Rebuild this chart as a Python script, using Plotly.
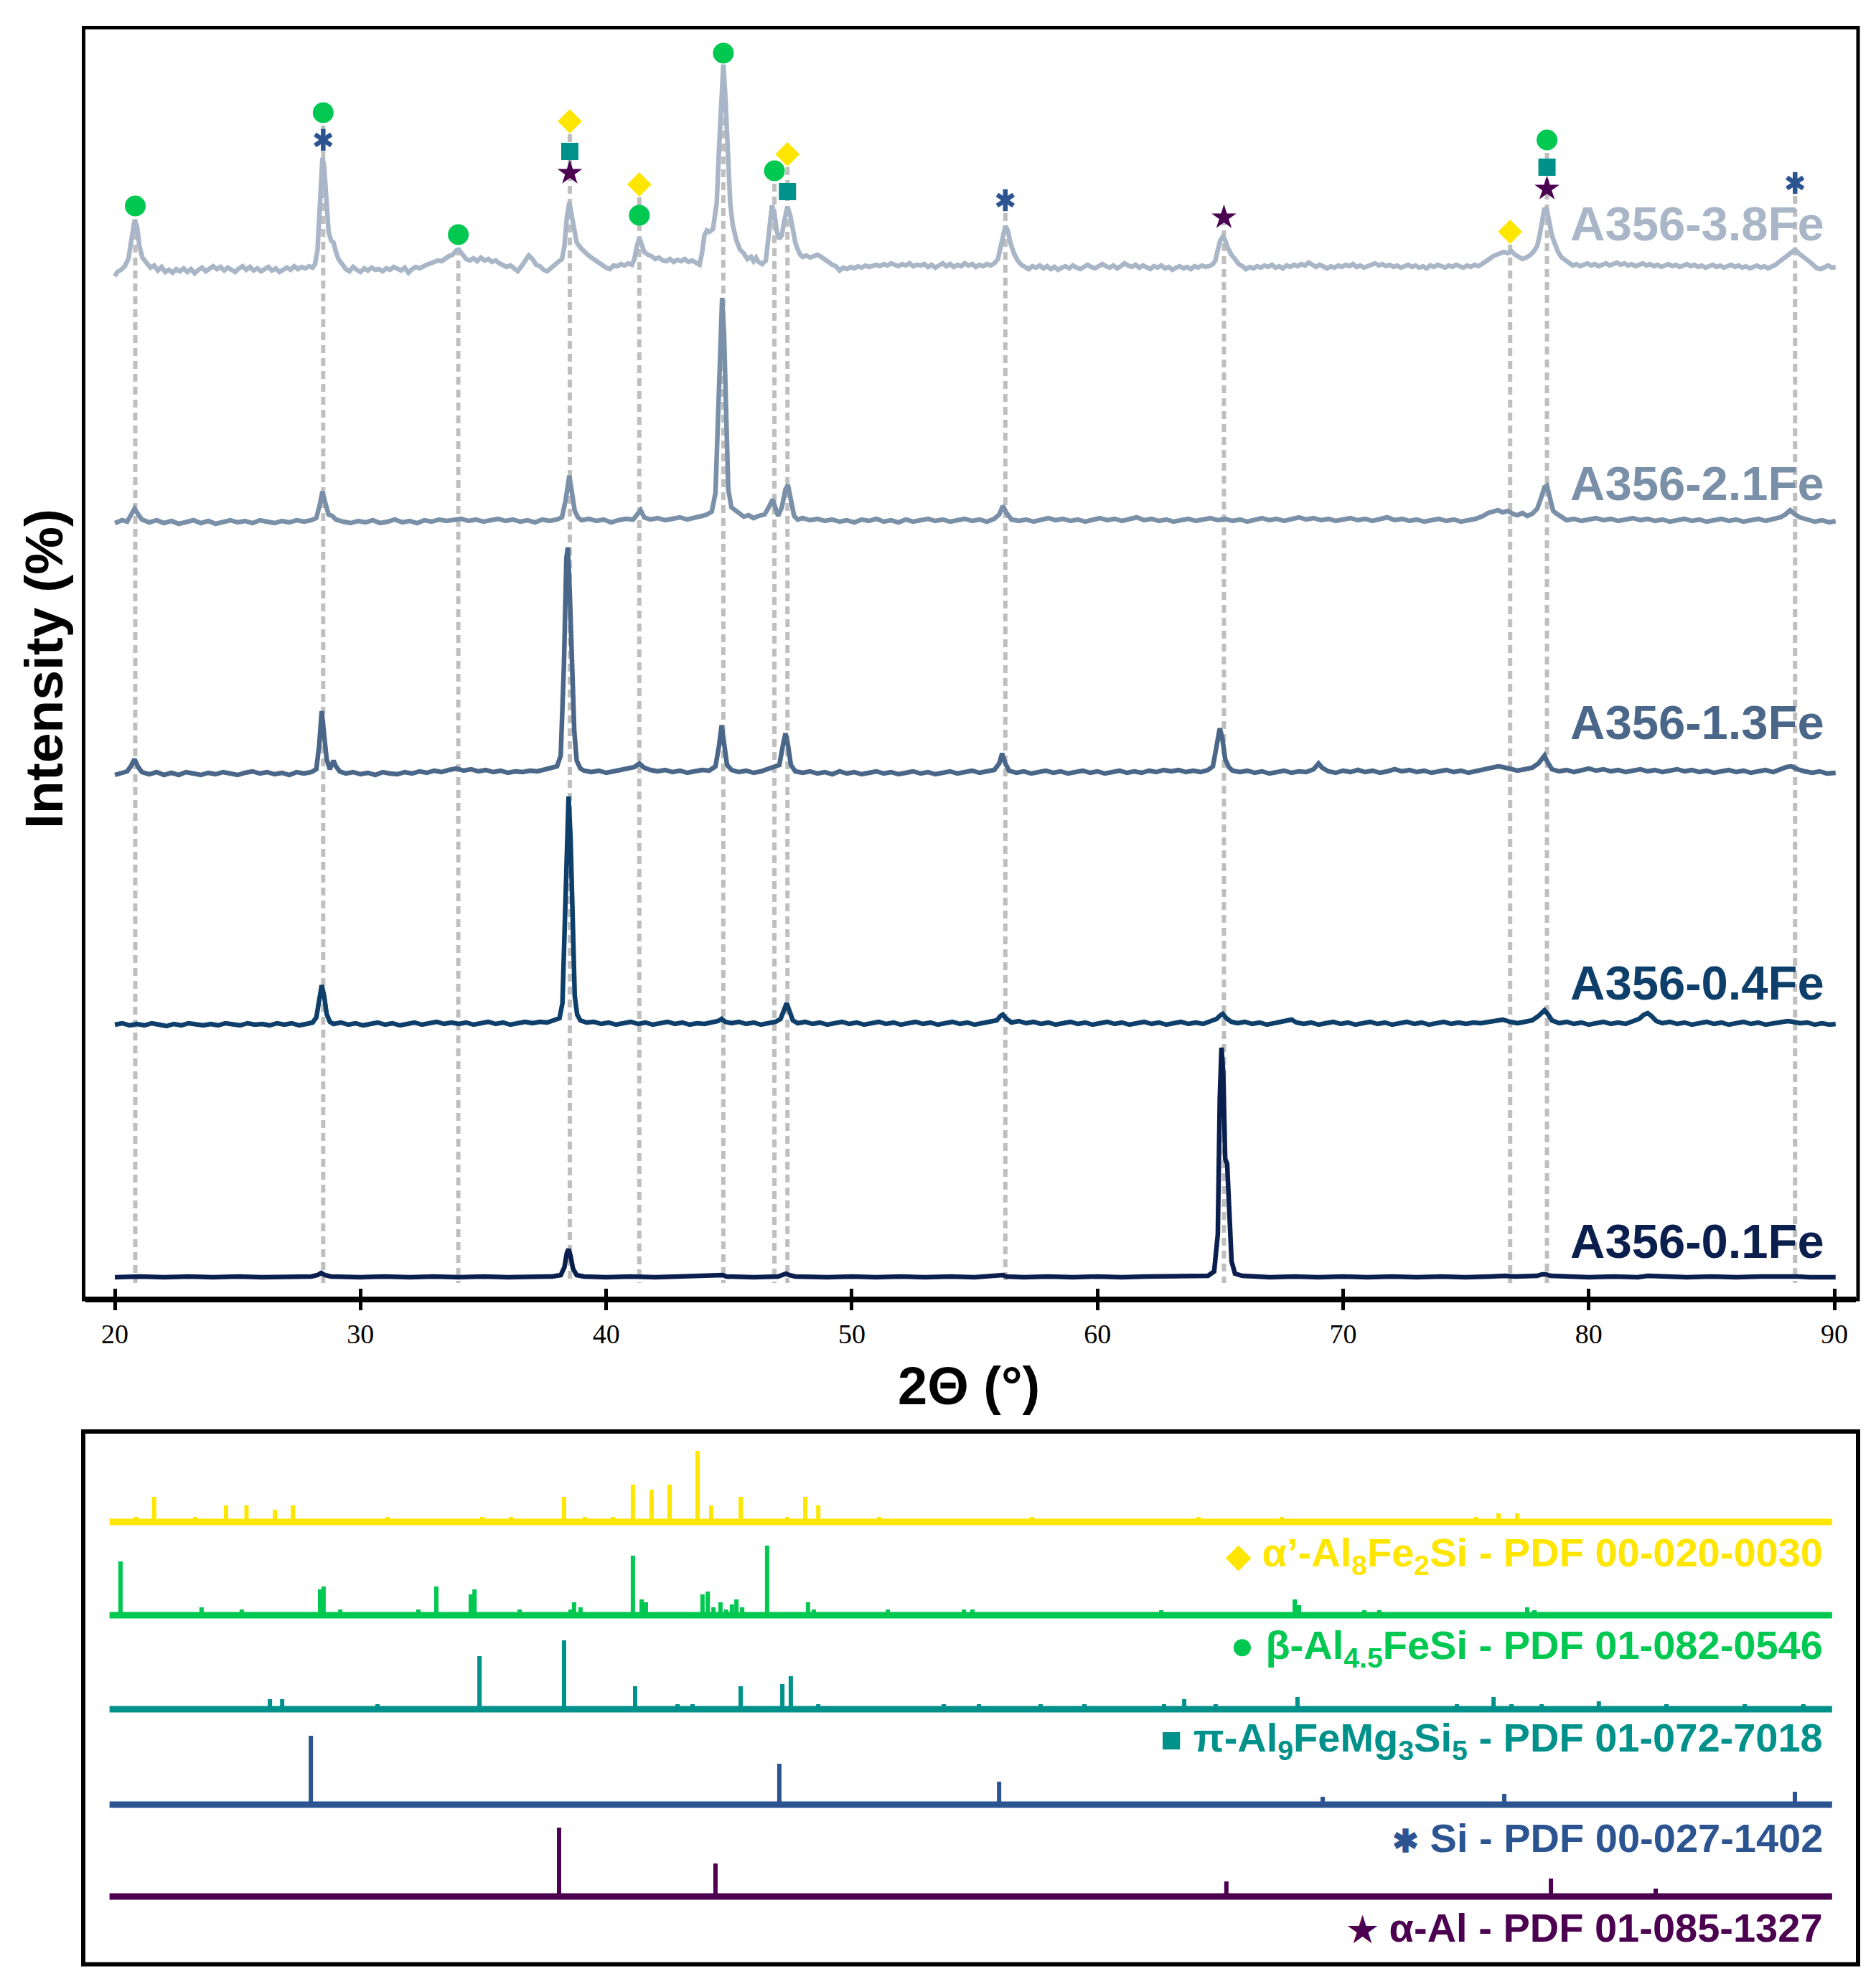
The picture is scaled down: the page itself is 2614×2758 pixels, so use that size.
import plotly.graph_objects as go

W, H = 2614, 2758

# ======================= DATA =======================
TICKS_2THETA = [20, 30, 40, 50, 60, 70, 80, 90]

SAMPLE_NAMES = ["A356-3.8Fe", "A356-2.1Fe", "A356-1.3Fe", "A356-0.4Fe", "A356-0.1Fe"]
SAMPLE_OFFSETS = [1438, 1084, 733, 383, 31]  # stacking offsets (a.u.)

# (2theta, intensity a.u.)
XRD_38FE = [(20.0,-12),(20.1,-6),(20.25,-3),(20.4,2),(20.55,12),(20.68,40),(20.8,66),(20.9,58),(21.0,30),(21.12,14),(21.3,6),(21.45,0),(21.6,3),(21.75,-4),(21.9,1),(22.05,-6),(22.2,-3),(22.35,-7),(22.5,-2),(22.65,-5),(22.8,-1),(22.95,-6),(23.1,-2),(23.25,-8),(23.4,-3),(23.55,0),(23.7,-5),(23.85,-1),(24.0,2),(24.15,-2),(24.3,1),(24.45,-4),(24.6,0),(24.75,-3),(24.9,-6),(25.05,-1),(25.2,2),(25.35,-3),(25.5,1),(25.65,-4),(25.8,-1),(25.95,-5),(26.1,-2),(26.25,1),(26.4,-4),(26.55,-1),(26.7,-6),(26.85,-2),(27.0,0),(27.15,-3),(27.3,2),(27.45,-2),(27.6,1),(27.75,-1),(27.9,2),(28.05,0),(28.15,5),(28.25,25),(28.35,95),(28.45,153),(28.52,140),(28.6,90),(28.7,50),(28.8,38),(28.9,35),(29.0,22),(29.1,12),(29.25,5),(29.4,-2),(29.55,-5),(29.7,1),(29.85,-3),(30.0,-6),(30.15,-1),(30.3,-4),(30.45,0),(30.6,-3),(30.75,-2),(30.9,-5),(31.05,-1),(31.2,-3),(31.35,1),(31.5,-2),(31.65,-4),(31.8,0),(31.95,-7),(32.1,-2),(32.25,1),(32.4,-1),(32.55,2),(32.7,4),(32.85,6),(33.0,8),(33.15,10),(33.3,9),(33.45,13),(33.6,16),(33.75,18),(33.9,24),(34.0,25),(34.15,17),(34.3,12),(34.45,10),(34.6,13),(34.75,9),(34.9,14),(35.05,10),(35.2,12),(35.35,8),(35.5,10),(35.65,6),(35.8,4),(35.95,1),(36.1,3),(36.25,-2),(36.4,-5),(36.55,2),(36.7,10),(36.85,17),(37.0,12),(37.15,4),(37.3,2),(37.45,-3),(37.6,-5),(37.75,0),(37.9,3),(38.05,8),(38.2,12),(38.3,30),(38.4,70),(38.5,91),(38.6,72),(38.7,48),(38.8,35),(38.95,28),(39.1,22),(39.25,18),(39.4,14),(39.55,10),(39.7,6),(39.85,2),(40.0,0),(40.15,-2),(40.3,3),(40.45,2),(40.6,5),(40.75,3),(40.9,6),(41.05,4),(41.15,12),(41.25,30),(41.35,41),(41.45,32),(41.55,22),(41.7,18),(41.85,16),(42.0,12),(42.15,14),(42.3,10),(42.45,9),(42.6,12),(42.75,8),(42.9,11),(43.05,9),(43.2,12),(43.35,8),(43.5,10),(43.65,6),(43.8,4),(43.9,20),(44.0,45),(44.1,52),(44.2,50),(44.35,54),(44.5,90),(44.6,170),(44.7,260),(44.77,283),(44.85,240),(44.95,150),(45.05,90),(45.15,60),(45.3,38),(45.45,25),(45.6,20),(45.75,12),(45.9,15),(46.0,9),(46.1,14),(46.2,8),(46.35,5),(46.5,10),(46.6,40),(46.75,87),(46.85,75),(46.95,50),(47.05,40),(47.15,45),(47.25,65),(47.38,85),(47.5,72),(47.6,50),(47.7,35),(47.8,25),(47.9,18),(48.0,15),(48.15,17),(48.3,14),(48.45,16),(48.6,18),(48.75,15),(48.9,12),(49.05,8),(49.2,4),(49.35,2),(49.5,-4),(49.65,0),(49.8,-2),(49.95,1),(50.1,-1),(50.25,2),(50.4,0),(50.55,3),(50.7,1),(50.85,2),(51.0,4),(51.15,2),(51.3,5),(51.45,3),(51.6,6),(51.75,4),(51.9,2),(52.05,5),(52.2,3),(52.35,6),(52.5,2),(52.65,4),(52.8,3),(52.95,5),(53.1,1),(53.25,4),(53.4,0),(53.55,3),(53.7,6),(53.85,2),(54.0,5),(54.15,1),(54.3,4),(54.45,2),(54.6,6),(54.75,3),(54.9,5),(55.05,1),(55.2,4),(55.35,2),(55.5,5),(55.65,3),(55.8,6),(55.95,12),(56.1,35),(56.25,58),(56.35,52),(56.45,35),(56.6,20),(56.75,10),(56.9,4),(57.05,1),(57.2,-2),(57.35,2),(57.5,0),(57.65,3),(57.8,-1),(57.95,2),(58.1,-2),(58.25,1),(58.4,-3),(58.55,0),(58.7,2),(58.85,-1),(59.0,3),(59.15,0),(59.3,-2),(59.45,1),(59.6,4),(59.75,1),(59.9,-1),(60.05,2),(60.2,5),(60.35,2),(60.5,0),(60.65,3),(60.8,-1),(60.95,2),(61.1,6),(61.25,3),(61.4,1),(61.55,4),(61.7,0),(61.85,3),(62.0,1),(62.15,-2),(62.3,2),(62.45,0),(62.6,3),(62.75,-1),(62.9,1),(63.05,-3),(63.2,0),(63.35,2),(63.5,-1),(63.65,1),(63.8,-2),(63.95,2),(64.1,0),(64.25,3),(64.4,1),(64.55,2),(64.7,5),(64.8,10),(64.9,25),(65.0,38),(65.1,43),(65.2,38),(65.3,28),(65.45,18),(65.6,12),(65.75,5),(65.9,2),(66.05,-2),(66.2,1),(66.35,-1),(66.5,2),(66.65,0),(66.8,3),(66.95,1),(67.1,4),(67.25,0),(67.4,2),(67.55,-1),(67.7,3),(67.85,1),(68.0,4),(68.15,2),(68.3,5),(68.45,3),(68.6,7),(68.75,3),(68.9,1),(69.05,4),(69.2,1),(69.35,-1),(69.5,2),(69.65,0),(69.8,3),(69.95,1),(70.1,4),(70.25,2),(70.4,5),(70.55,1),(70.7,3),(70.85,0),(71.0,2),(71.15,4),(71.3,6),(71.45,3),(71.6,5),(71.75,2),(71.9,4),(72.05,1),(72.2,3),(72.35,0),(72.5,2),(72.65,4),(72.8,1),(72.95,3),(73.1,0),(73.25,2),(73.4,-1),(73.55,3),(73.7,1),(73.85,4),(74.0,2),(74.15,0),(74.3,3),(74.45,1),(74.6,4),(74.75,2),(74.9,0),(75.05,3),(75.2,1),(75.35,4),(75.5,2),(75.65,5),(75.8,8),(75.95,12),(76.1,16),(76.25,18),(76.4,20),(76.55,22),(76.7,20),(76.85,23),(77.0,18),(77.15,14),(77.3,12),(77.45,14),(77.6,17),(77.75,22),(77.9,30),(78.0,45),(78.1,70),(78.2,83),(78.3,80),(78.4,62),(78.5,45),(78.6,35),(78.75,22),(78.9,14),(79.05,10),(79.2,6),(79.35,3),(79.5,5),(79.65,2),(79.8,4),(79.95,6),(80.1,3),(80.25,5),(80.4,2),(80.55,4),(80.7,6),(80.85,3),(81.0,5),(81.15,7),(81.3,4),(81.45,6),(81.6,3),(81.75,5),(81.9,2),(82.05,4),(82.2,6),(82.35,3),(82.5,5),(82.65,2),(82.8,4),(82.95,1),(83.1,3),(83.25,5),(83.4,2),(83.55,4),(83.7,1),(83.85,3),(84.0,5),(84.15,2),(84.3,4),(84.45,1),(84.6,3),(84.75,0),(84.9,2),(85.05,4),(85.2,1),(85.35,3),(85.5,0),(85.65,2),(85.8,4),(85.95,1),(86.1,3),(86.25,0),(86.4,2),(86.55,-1),(86.7,1),(86.85,3),(87.0,0),(87.15,2),(87.3,-1),(87.45,1),(87.6,4),(87.75,8),(87.9,12),(88.05,16),(88.2,20),(88.4,25),(88.55,20),(88.7,15),(88.85,12),(89.0,8),(89.15,3),(89.3,-1),(89.45,-2),(89.6,1),(89.75,3),(89.9,0),(90.05,1)]

XRD_21FE = [(20.0,-2),(20.3,2),(20.5,0),(20.65,8),(20.8,18),(20.95,10),(21.1,3),(21.4,-1),(21.7,2),(22.0,-2),(22.3,1),(22.6,-3),(22.9,0),(23.2,2),(23.5,-2),(23.8,1),(24.1,-3),(24.4,0),(24.7,2),(25.0,-1),(25.3,1),(25.6,-2),(25.9,2),(26.2,0),(26.5,-2),(26.8,1),(27.1,-1),(27.4,2),(27.7,0),(28.0,2),(28.2,5),(28.35,25),(28.45,42),(28.55,28),(28.7,10),(28.85,8),(29.0,3),(29.3,0),(29.6,-2),(29.9,1),(30.2,-1),(30.5,2),(30.8,-2),(31.1,0),(31.4,3),(31.7,-1),(32.0,1),(32.3,-2),(32.6,2),(32.9,0),(33.2,3),(33.5,1),(33.8,2),(34.1,4),(34.4,1),(34.7,3),(35.0,0),(35.3,2),(35.6,4),(35.9,1),(36.2,3),(36.5,0),(36.8,2),(37.1,-1),(37.4,3),(37.7,1),(38.0,3),(38.2,6),(38.35,30),(38.5,64),(38.6,45),(38.72,15),(38.85,6),(39.0,2),(39.3,4),(39.6,1),(39.9,3),(40.2,-1),(40.5,2),(40.8,4),(41.1,3),(41.25,10),(41.4,16),(41.55,6),(41.8,3),(42.1,5),(42.4,2),(42.7,4),(43.0,6),(43.3,3),(43.6,5),(43.9,8),(44.1,10),(44.3,14),(44.45,40),(44.55,150),(44.65,280),(44.72,312),(44.8,260),(44.88,140),(44.97,45),(45.1,20),(45.25,16),(45.4,12),(45.6,7),(45.8,9),(46.0,5),(46.2,8),(46.45,10),(46.65,22),(46.78,31),(46.9,18),(47.0,8),(47.15,20),(47.3,45),(47.4,51),(47.5,30),(47.65,8),(47.8,3),(48.0,5),(48.3,2),(48.6,4),(48.9,1),(49.2,3),(49.5,0),(49.8,2),(50.1,-1),(50.4,3),(50.7,1),(51.0,4),(51.3,0),(51.6,2),(51.9,-1),(52.2,3),(52.5,0),(52.8,2),(53.1,4),(53.4,1),(53.7,3),(54.0,0),(54.3,2),(54.6,4),(54.9,1),(55.2,3),(55.5,0),(55.8,4),(56.0,10),(56.15,22),(56.3,12),(56.5,3),(56.8,1),(57.1,3),(57.4,0),(57.7,2),(58.0,5),(58.3,2),(58.6,4),(58.9,1),(59.2,3),(59.5,0),(59.8,2),(60.1,5),(60.4,2),(60.7,4),(61.0,1),(61.3,3),(61.6,6),(61.9,2),(62.2,4),(62.5,1),(62.8,3),(63.1,0),(63.4,2),(63.7,4),(64.0,1),(64.3,3),(64.6,5),(64.9,2),(65.2,4),(65.5,1),(65.8,3),(66.1,0),(66.4,2),(66.7,5),(67.0,2),(67.3,4),(67.6,1),(67.9,3),(68.2,6),(68.5,3),(68.8,5),(69.1,2),(69.4,4),(69.7,1),(70.0,3),(70.3,5),(70.6,2),(70.9,4),(71.2,1),(71.5,3),(71.8,6),(72.1,2),(72.4,4),(72.7,1),(73.0,3),(73.3,0),(73.6,2),(73.9,4),(74.2,1),(74.5,3),(74.8,0),(75.1,2),(75.4,4),(75.7,8),(75.9,12),(76.1,14),(76.3,16),(76.5,13),(76.7,15),(76.9,11),(77.1,9),(77.3,12),(77.5,8),(77.7,11),(77.9,18),(78.05,32),(78.2,48),(78.3,50),(78.42,35),(78.55,15),(78.7,11),(78.9,6),(79.1,2),(79.4,4),(79.7,1),(80.0,3),(80.3,5),(80.6,2),(80.9,4),(81.2,1),(81.5,3),(81.8,5),(82.1,2),(82.4,4),(82.7,1),(83.0,3),(83.3,0),(83.6,2),(83.9,4),(84.2,1),(84.5,3),(84.8,0),(85.1,2),(85.4,4),(85.7,1),(86.0,3),(86.3,0),(86.6,2),(86.9,4),(87.2,1),(87.5,3),(87.8,6),(88.0,10),(88.2,16),(88.4,10),(88.6,6),(88.9,3),(89.2,0),(89.5,2),(89.8,-1),(90.05,1)]

XRD_13FE = [(20.0,-2),(20.3,1),(20.5,3),(20.65,10),(20.8,20),(20.95,9),(21.1,2),(21.4,-1),(21.7,2),(22.0,-2),(22.3,1),(22.6,-2),(22.9,2),(23.2,0),(23.5,-2),(23.8,1),(24.1,-1),(24.4,2),(24.7,0),(25.0,-2),(25.3,1),(25.6,3),(25.9,0),(26.2,2),(26.5,-1),(26.8,1),(27.1,-2),(27.4,2),(27.7,0),(28.0,2),(28.2,6),(28.32,40),(28.42,87),(28.52,60),(28.62,20),(28.75,6),(28.9,18),(29.0,10),(29.15,3),(29.4,0),(29.7,2),(30.0,-1),(30.3,1),(30.6,-2),(30.9,2),(31.2,0),(31.5,-1),(31.8,2),(32.1,0),(32.4,3),(32.7,1),(33.0,4),(33.3,2),(33.6,5),(33.9,7),(34.2,4),(34.5,6),(34.8,3),(35.1,5),(35.4,2),(35.7,4),(36.0,1),(36.3,3),(36.6,2),(36.9,4),(37.2,3),(37.5,6),(37.8,8),(38.0,10),(38.15,25),(38.28,150),(38.38,300),(38.44,315),(38.52,250),(38.6,150),(38.7,60),(38.8,18),(38.95,7),(39.1,4),(39.4,2),(39.7,4),(40.0,1),(40.3,3),(40.6,5),(40.9,6),(41.15,9),(41.35,14),(41.55,8),(41.8,5),(42.1,3),(42.4,5),(42.7,2),(43.0,4),(43.3,1),(43.6,3),(43.9,5),(44.2,4),(44.45,10),(44.6,40),(44.7,67),(44.8,42),(44.92,12),(45.1,5),(45.4,2),(45.7,4),(46.0,1),(46.3,3),(46.6,6),(46.85,9),(47.05,12),(47.2,40),(47.3,56),(47.4,40),(47.52,12),(47.7,3),(48.0,1),(48.3,3),(48.6,0),(48.9,2),(49.2,-1),(49.5,3),(49.8,0),(50.1,2),(50.4,-1),(50.7,1),(51.0,3),(51.3,0),(51.6,2),(51.9,-1),(52.2,1),(52.5,3),(52.8,0),(53.1,2),(53.4,-1),(53.7,1),(54.0,3),(54.3,0),(54.6,2),(54.9,4),(55.2,1),(55.5,3),(55.8,5),(56.0,14),(56.12,28),(56.25,14),(56.4,4),(56.7,1),(57.0,3),(57.3,0),(57.6,2),(57.9,4),(58.2,1),(58.5,3),(58.8,0),(59.1,2),(59.4,4),(59.7,1),(60.0,3),(60.3,0),(60.6,2),(60.9,4),(61.2,1),(61.5,3),(61.8,1),(62.1,4),(62.4,2),(62.7,5),(63.0,3),(63.3,5),(63.6,2),(63.9,4),(64.2,2),(64.5,5),(64.7,10),(64.85,35),(64.98,63),(65.08,50),(65.2,20),(65.35,9),(65.5,4),(65.8,2),(66.1,4),(66.4,1),(66.7,3),(67.0,0),(67.3,2),(67.6,4),(67.9,1),(68.2,3),(68.5,2),(68.8,6),(69.0,14),(69.15,8),(69.4,3),(69.7,1),(70.0,4),(70.3,2),(70.6,5),(70.9,2),(71.2,4),(71.5,1),(71.8,3),(72.1,6),(72.4,3),(72.7,5),(73.0,2),(73.3,4),(73.6,1),(73.9,3),(74.2,5),(74.5,2),(74.8,4),(75.1,1),(75.4,3),(75.7,5),(76.0,7),(76.3,10),(76.5,9),(76.8,6),(77.1,4),(77.4,6),(77.7,8),(77.95,14),(78.1,22),(78.2,25),(78.32,16),(78.5,6),(78.8,3),(79.1,5),(79.4,2),(79.7,4),(80.0,7),(80.3,4),(80.6,6),(80.9,3),(81.2,5),(81.5,2),(81.8,4),(82.1,6),(82.4,3),(82.7,5),(83.0,2),(83.3,4),(83.6,6),(83.9,3),(84.2,5),(84.5,2),(84.8,4),(85.1,1),(85.4,3),(85.7,5),(86.0,2),(86.3,4),(86.6,1),(86.9,3),(87.2,5),(87.5,2),(87.8,6),(88.05,9),(88.25,10),(88.5,6),(88.8,3),(89.1,1),(89.4,3),(89.7,0),(90.05,1)]

XRD_04FE = [(20.0,0),(20.3,2),(20.6,-1),(20.9,1),(21.2,-1),(21.5,2),(21.8,0),(22.1,-2),(22.4,1),(22.7,-1),(23.0,2),(23.3,0),(23.6,-1),(23.9,1),(24.2,-1),(24.5,2),(24.8,0),(25.1,-1),(25.4,2),(25.7,0),(26.0,1),(26.3,-1),(26.6,2),(26.9,0),(27.2,2),(27.5,-1),(27.8,1),(28.05,3),(28.2,10),(28.32,35),(28.42,55),(28.52,40),(28.62,15),(28.75,4),(28.9,1),(29.2,3),(29.5,0),(29.8,2),(30.1,-1),(30.4,1),(30.7,3),(31.0,0),(31.3,2),(31.6,-1),(31.9,1),(32.2,3),(32.5,0),(32.8,2),(33.1,4),(33.4,1),(33.7,3),(34.0,1),(34.3,3),(34.6,0),(34.9,2),(35.2,4),(35.5,1),(35.8,3),(36.1,0),(36.4,2),(36.7,4),(37.0,2),(37.3,4),(37.6,3),(37.9,6),(38.1,9),(38.22,30),(38.32,150),(38.4,290),(38.47,318),(38.55,260),(38.63,130),(38.72,40),(38.82,14),(38.95,6),(39.2,3),(39.5,4),(39.8,1),(40.1,3),(40.4,0),(40.7,2),(41.0,4),(41.3,1),(41.6,3),(41.9,0),(42.2,2),(42.5,4),(42.8,1),(43.1,3),(43.4,0),(43.7,2),(44.0,1),(44.3,3),(44.55,5),(44.7,8),(44.85,4),(45.1,2),(45.4,4),(45.7,1),(46.0,3),(46.3,0),(46.6,2),(46.9,4),(47.1,8),(47.25,24),(47.35,30),(47.45,20),(47.6,6),(47.8,2),(48.1,4),(48.4,1),(48.7,3),(49.0,0),(49.3,2),(49.6,4),(49.9,1),(50.2,3),(50.5,0),(50.8,2),(51.1,4),(51.4,1),(51.7,3),(52.0,0),(52.3,2),(52.6,4),(52.9,1),(53.2,3),(53.5,0),(53.8,2),(54.1,4),(54.4,1),(54.7,3),(55.0,0),(55.3,2),(55.6,4),(55.9,6),(56.05,12),(56.15,14),(56.3,8),(56.5,3),(56.8,5),(57.1,2),(57.4,4),(57.7,1),(58.0,3),(58.3,0),(58.6,2),(58.9,4),(59.2,1),(59.5,3),(59.8,0),(60.1,2),(60.4,4),(60.7,1),(61.0,3),(61.3,0),(61.6,2),(61.9,4),(62.2,1),(62.5,3),(62.8,0),(63.1,2),(63.4,4),(63.7,1),(64.0,3),(64.3,1),(64.6,4),(64.85,8),(65.0,13),(65.1,15),(65.25,9),(65.45,4),(65.7,2),(66.0,4),(66.3,1),(66.6,3),(66.9,0),(67.2,2),(67.5,4),(67.75,6),(67.9,7),(68.1,3),(68.4,1),(68.7,3),(69.0,0),(69.3,2),(69.6,4),(69.9,1),(70.2,3),(70.5,0),(70.8,2),(71.1,4),(71.4,1),(71.7,3),(72.0,0),(72.3,2),(72.6,4),(72.9,1),(73.2,3),(73.5,0),(73.8,2),(74.1,4),(74.4,1),(74.7,3),(75.0,1),(75.3,3),(75.6,2),(75.9,4),(76.2,5),(76.5,7),(76.8,4),(77.1,2),(77.4,4),(77.7,6),(77.95,12),(78.1,18),(78.2,20),(78.35,14),(78.5,6),(78.8,2),(79.1,4),(79.4,1),(79.7,3),(80.0,0),(80.3,2),(80.6,4),(80.9,1),(81.2,3),(81.5,1),(81.8,4),(82.05,8),(82.25,14),(82.4,16),(82.55,12),(82.75,5),(83.0,2),(83.3,4),(83.6,1),(83.9,3),(84.2,0),(84.5,2),(84.8,4),(85.1,1),(85.4,3),(85.7,0),(86.0,2),(86.3,4),(86.6,1),(86.9,3),(87.2,0),(87.5,2),(87.8,4),(88.1,5),(88.3,4),(88.6,2),(88.9,3),(89.2,0),(89.5,2),(89.8,0),(90.05,1)]

XRD_01FE = [(20.0,0),(21.0,1),(22.0,0),(23.0,1),(24.0,0),(25.0,1),(26.0,0),(27.0,1),(28.0,1),(28.25,3),(28.4,6),(28.55,3),(28.8,1),(30.0,0),(31.0,1),(32.0,0),(33.0,1),(34.0,0),(35.0,1),(36.0,0),(37.0,1),(37.8,1),(38.15,3),(38.3,14),(38.4,34),(38.47,39),(38.55,30),(38.65,12),(38.8,3),(39.1,1),(40.0,0),(41.0,1),(42.0,0),(43.0,1),(44.0,1),(44.6,2),(44.75,3),(44.9,1),(46.0,0),(47.0,1),(47.2,4),(47.32,5),(47.45,3),(47.7,1),(49.0,0),(50.0,1),(51.0,0),(52.0,1),(53.0,0),(54.0,1),(55.0,0),(56.0,2),(56.15,3),(56.3,1),(57.0,0),(58.0,1),(59.0,0),(60.0,1),(61.0,0),(62.0,1),(63.0,1),(64.0,1),(64.5,2),(64.75,8),(64.9,60),(64.98,250),(65.05,320),(65.12,285),(65.2,165),(65.28,158),(65.36,95),(65.46,22),(65.6,5),(65.9,2),(66.5,1),(67.0,0),(68.0,1),(69.0,0),(70.0,1),(71.0,0),(72.0,1),(73.0,0),(74.0,1),(75.0,0),(76.0,1),(76.6,2),(77.0,1),(77.9,2),(78.1,4),(78.25,4),(78.45,2),(79.0,1),(80.0,0),(81.0,1),(82.0,0),(82.4,2),(83.0,1),(84.0,0),(85.0,1),(86.0,0),(87.0,1),(88.0,1),(88.2,2),(88.5,1),(89.0,0),(90.05,0)]

# Phase identification markers on the top pattern (2theta, height a.u.)
MK_BETA_X = [20.83, 28.48, 33.98, 41.35, 44.77, 46.85, 78.3]
MK_BETA_Y = [1524, 1654, 1484, 1511, 1737, 1573, 1616]
MK_ALPHAP_X = [38.52, 41.35, 47.38, 76.8]
MK_ALPHAP_Y = [1642, 1554, 1596, 1488]
MK_PI_X = [38.52, 47.38, 78.3]
MK_PI_Y = [1600, 1544, 1578]
MK_SI_X = [28.48, 56.25, 88.4]
MK_SI_Y = [1616, 1532, 1556]
MK_AL_X = [38.52, 65.15, 78.3]
MK_AL_Y = [1570, 1508, 1548]
GUIDE_BOTTOM = 23

# Reference stick patterns (2theta, relative intensity a.u.)
REF_GLYPHS = ["◆", "●", "■", "✱", "★"]
REF_LABELS = [
    "α’-Al<sub>8</sub>Fe<sub>2</sub>Si - PDF 00-020-0030",
    "β-Al<sub>4.5</sub>FeSi - PDF 01-082-0546",
    "π-Al<sub>9</sub>FeMg<sub>3</sub>Si<sub>5</sub> - PDF 01-072-7018",
    "Si - PDF 00-027-1402",
    "α-Al - PDF 01-085-1327",
]
REF_BASE = [617, 487, 356, 223, 95]
REF_RANGE = [20.45, 89.5]
REF_ALPHAP_X = [21.52, 22.24, 23.88, 25.12, 25.94, 27.08, 27.80, 31.59, 35.39, 36.54, 38.67, 39.50, 40.63, 41.43, 42.18, 42.90, 44.02, 44.57, 45.75, 47.62, 48.34, 48.86, 51.30, 57.43, 64.10, 67.44, 75.24, 76.13, 76.88]
REF_ALPHAP_I = [3, 31, 3, 19, 19, 13, 19, 3, 3, 3, 31, 3, 3, 48, 41, 48, 95, 19, 31, 3, 31, 19, 3, 3, 3, 3, 3, 8, 8]
REF_BETA_X = [20.89, 24.14, 25.75, 28.89, 29.03, 29.70, 32.83, 33.55, 34.93, 35.08, 36.89, 38.93, 39.07, 39.33, 41.43, 41.78, 41.95, 44.22, 44.43, 44.66, 44.94, 45.17, 45.40, 45.58, 45.81, 46.81, 48.45, 48.68, 51.65, 54.70, 55.04, 62.61, 67.96, 68.13, 70.75, 71.35, 77.28, 77.57]
REF_BETA_I = [71, 7, 4, 32, 36, 4, 4, 36, 25, 32, 4, 4, 14, 7, 79, 18, 14, 25, 29, 7, 14, 4, 11, 18, 7, 93, 14, 4, 4, 4, 4, 3, 18, 10, 3, 3, 7, 3]
REF_PI_X = [26.88, 27.37, 31.19, 35.28, 38.67, 41.52, 43.22, 43.82, 45.75, 47.42, 47.76, 48.86, 53.89, 55.30, 57.77, 59.53, 62.72, 63.53, 64.79, 68.07, 74.46, 75.93, 76.65, 77.86, 80.15, 82.86, 86.00, 88.35]
REF_PI_I = [10, 10, 3, 70, 92, 28, 3, 3, 28, 31, 42, 3, 3, 3, 3, 3, 3, 10, 3, 13, 3, 13, 3, 3, 7, 3, 3, 3]
REF_SI_X = [28.52, 47.30, 56.11, 69.08, 76.36, 88.01]
REF_SI_I = [92, 53, 28, 7, 11, 14]
REF_AL_X = [38.47, 44.74, 65.22, 78.23, 82.43]
REF_AL_I = [92, 42, 17, 21, 7]

# ======================= STYLE =======================
SAMPLE_COLORS = ["#a9b6c7", "#7a90a8", "#4a6789", "#0e3f6b", "#0b1f4f"]
C_ALPHAP = "#ffe600"
C_BETA = "#00c850"
C_PI = "#00918a"
C_SI = "#2b5491"
C_AL = "#4b0050"
REF_COLORS = [C_ALPHAP, C_BETA, C_PI, C_SI, C_AL]
GLYPH_SIZES = [44, 56, 50, 44, 48]
GUIDE_COLOR = "#bfbfbf"
SANS = "Liberation Sans, Arial, sans-serif"
SERIF = "Liberation Serif, Times New Roman, serif"

def fx(px):
    return px / W

def fy(px):
    return 1 - px / H

fig = go.Figure()

# guide lines (dashed) from each marker column down to the bottom pattern
all_mk = list(zip(MK_BETA_X, MK_BETA_Y)) + list(zip(MK_ALPHAP_X, MK_ALPHAP_Y)) + \
    list(zip(MK_PI_X, MK_PI_Y)) + list(zip(MK_SI_X, MK_SI_Y)) + list(zip(MK_AL_X, MK_AL_Y))
tops = {}
for x, y in all_mk:
    tops[x] = max(tops.get(x, -1e9), y)
gx, gy = [], []
for x in sorted(tops):
    gx += [x, x, None]
    gy += [tops[x], GUIDE_BOTTOM, None]
fig.add_trace(go.Scatter(x=gx, y=gy, mode="lines", hoverinfo="skip",
                         line=dict(color=GUIDE_COLOR, width=6, dash="11px,7px")))

# XRD patterns
patterns = [XRD_38FE, XRD_21FE, XRD_13FE, XRD_04FE, XRD_01FE]
for pat, off, col in zip(patterns, SAMPLE_OFFSETS, SAMPLE_COLORS):
    fig.add_trace(go.Scatter(x=[p[0] for p in pat], y=[p[1] + off for p in pat],
                             mode="lines", line=dict(color=col, width=6.5), hoverinfo="skip"))

# markers
fig.add_trace(go.Scatter(x=MK_BETA_X, y=MK_BETA_Y, mode="markers",
                         marker=dict(symbol="circle", size=29, color=C_BETA, line=dict(width=0))))
fig.add_trace(go.Scatter(x=MK_ALPHAP_X, y=MK_ALPHAP_Y, mode="markers",
                         marker=dict(symbol="diamond", size=26, color=C_ALPHAP, line=dict(width=0))))
fig.add_trace(go.Scatter(x=MK_PI_X, y=MK_PI_Y, mode="markers",
                         marker=dict(symbol="square", size=24, color=C_PI, line=dict(width=0))))
for sym in ["y-up", "y-down"]:
    fig.add_trace(go.Scatter(x=MK_SI_X, y=MK_SI_Y, mode="markers",
                             marker=dict(symbol=sym, size=19, color=C_SI, line=dict(color=C_SI, width=6.5))))
fig.add_trace(go.Scatter(x=MK_AL_X, y=MK_AL_Y, mode="markers",
                         marker=dict(symbol="star", size=26, color=C_AL, line=dict(width=0))))

# overlay axis trace (for inward ticks)
fig.add_trace(go.Scatter(x=[50], y=[-100], xaxis="x3", yaxis="y", mode="markers",
                         marker=dict(opacity=0), hoverinfo="skip"))

# reference stick patterns
refs = [(REF_ALPHAP_X, REF_ALPHAP_I), (REF_BETA_X, REF_BETA_I), (REF_PI_X, REF_PI_I),
        (REF_SI_X, REF_SI_I), (REF_AL_X, REF_AL_I)]
for (rx, ri), base, col in zip(refs, REF_BASE, REF_COLORS):
    sx, sy = [], []
    for x, i in zip(rx, ri):
        sx += [x, x, None]
        sy += [base, base + i + 4, None]
    fig.add_trace(go.Scatter(x=sx, y=sy, mode="lines", xaxis="x2", yaxis="y2",
                             line=dict(color=col, width=6), hoverinfo="skip"))
    fig.add_trace(go.Scatter(x=REF_RANGE, y=[base, base], mode="lines", xaxis="x2", yaxis="y2",
                             line=dict(color=col, width=9), hoverinfo="skip"))

X_DOM = [fx(111), fx(2578)]
fig.update_layout(
    template="none",
    width=W, height=H,
    margin=dict(l=0, r=0, t=0, b=0),
    paper_bgcolor="white", plot_bgcolor="rgba(0,0,0,0)",
    showlegend=False,
    xaxis=dict(domain=X_DOM, range=[18.80, 90.876], anchor="y",
               showline=True, linewidth=8, linecolor="black", mirror=False,
               ticks="outside", ticklen=11, tickwidth=5, tickcolor="black",
               tickvals=TICKS_2THETA, ticktext=[str(t) for t in TICKS_2THETA],
               tickfont=dict(family=SERIF, size=38, color="black"),
               showgrid=False, zeroline=False, automargin=False),
    xaxis3=dict(overlaying="x", anchor="y", range=[18.80, 90.876], domain=X_DOM,
                showline=False, ticks="inside", ticklen=11, tickwidth=5, tickcolor="black",
                tickvals=TICKS_2THETA, showticklabels=False,
                showgrid=False, zeroline=False, automargin=False),
    yaxis=dict(domain=[fy(1799), fy(33)], range=[4, 1770], anchor="x",
               showline=False, ticks="", showticklabels=False,
               showgrid=False, zeroline=False, automargin=False),
    xaxis2=dict(domain=X_DOM, range=[19.483, 90.455], anchor="y2",
                showline=False, ticks="", showticklabels=False,
                showgrid=False, zeroline=False, automargin=False),
    yaxis2=dict(domain=[fy(2727), fy(1990)], range=[3, 740], anchor="x2",
                showline=False, ticks="", showticklabels=False,
                showgrid=False, zeroline=False, automargin=False),
)

# frames
fig.add_shape(type="rect", xref="paper", yref="paper",
              x0=fx(108.5), x1=fx(2581), y0=fy(1803), y1=fy(30.5),
              line=dict(color="black", width=5), fillcolor="rgba(0,0,0,0)", layer="above")
fig.add_shape(type="rect", xref="paper", yref="paper",
              x0=fx(108), x1=fx(2581), y0=fy(2729.5), y1=fy(1987),
              line=dict(color="black", width=6), fillcolor="rgba(0,0,0,0)", layer="above")

# sample labels
LABEL_Y_PX = [304, 666, 999, 1361, 1721]
for name, col, ypx in zip(SAMPLE_NAMES, SAMPLE_COLORS, LABEL_Y_PX):
    fig.add_annotation(text=f"<b>{name}</b>", xref="paper", yref="paper",
                       x=fx(2536), y=fy(ypx), xanchor="right", yanchor="middle",
                       showarrow=False, font=dict(family=SANS, size=67, color=col))

# reference labels
REF_LABEL_Y_PX = [2159, 2288, 2417, 2553, 2678]
for g, gs, lab, col, ypx in zip(REF_GLYPHS, GLYPH_SIZES, REF_LABELS, REF_COLORS, REF_LABEL_Y_PX):
    txt = f"<b><span style='font-size:{gs}px'>{g}</span> {lab}</b>"
    fig.add_annotation(text=txt, xref="paper", yref="paper",
                       x=fx(2534), y=fy(ypx), xanchor="right", yanchor="middle",
                       showarrow=False, font=dict(family=SANS, size=56, color=col))

# axis titles
fig.add_annotation(text="<b>2Θ (°)</b>", xref="paper", yref="paper",
                   x=fx(1342), y=fy(1923), xanchor="center", yanchor="middle",
                   showarrow=False, font=dict(family=SANS, size=74, color="black"))
fig.add_annotation(text="<b>Intensity (%)</b>", xref="paper", yref="paper",
                   x=fx(53), y=fy(924), xanchor="center", yanchor="middle", textangle=-90,
                   showarrow=False, font=dict(family=SANS, size=75, color="black"))

fig.write_html("out.html")
